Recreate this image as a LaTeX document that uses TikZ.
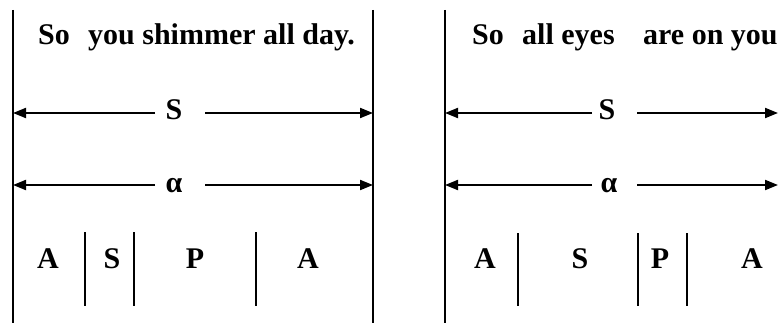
\documentclass[tikz,border=0pt]{standalone}
\usepackage{fontspec}
\setmainfont{Liberation Serif}
\newfontfamily\tnr{Liberation Serif}
\usetikzlibrary{arrows.meta}
\begin{document}
\begin{tikzpicture}[x=1pt,y=-1pt,
  vline/.style={line width=2.6pt},
  divline/.style={line width=2.4pt},
  arr/.style={line width=2pt,-{Triangle[length=13pt,width=10pt]}},
  txt/.style={inner sep=0pt,anchor=base west,font=\tnr\bfseries\fontsize{30}{35}\selectfont},
  lbl/.style={inner sep=0pt,anchor=base,font=\tnr\bfseries\fontsize{30}{35}\selectfont}]
\useasboundingbox (0,0) rectangle (778,323);
% vertical frame lines
\coordinate (L1t) at (13,10);   \coordinate (L1b) at (13,323);
\coordinate (R1t) at (373,10);  \coordinate (R1b) at (373,323);
\coordinate (L2t) at (445,10);  \coordinate (L2b) at (445,323);
\draw[vline] (L1t) -- (L1b);
\draw[vline] (R1t) -- (R1b);
\draw[vline] (L2t) -- (L2b);
% titles
\node[txt] (t1a) at (38,45) {So};
\node[txt] (t1b) at (88,45) {you shimmer all day.};
\node[txt] (t2a) at (472,45) {So};
\node[txt] (t2b) at (522,45) {all eyes};
\node[txt] (t2c) at (643,45) {are on you};
% arrow end points
\coordinate (aS1l) at (13,113);  \coordinate (aS1r) at (373,113);
\coordinate (aA1l) at (13,185);  \coordinate (aA1r) at (373,185);
\coordinate (aS2l) at (445,113); \coordinate (aS2r) at (778,113);
\coordinate (aA2l) at (445,185); \coordinate (aA2r) at (778,185);
% segment starts beside the labels
\coordinate (pS1l) at (155,113); \coordinate (pS1r) at (205,113);
\coordinate (pA1l) at (155,185); \coordinate (pA1r) at (205,185);
\coordinate (pS2l) at (592,113); \coordinate (pS2r) at (637,113);
\coordinate (pA2l) at (592,185); \coordinate (pA2r) at (637,185);
% labels
\node[lbl] (S1) at (174,120) {S};
\node[lbl] (A1) at (174,192) {α};
\node[lbl] (S2) at (607,120) {S};
\node[lbl] (A2) at (609,192) {α};
% arrows
\draw[arr] (pS1l) -- (aS1l);
\draw[arr] (pS1r) -- (aS1r);
\draw[arr] (pA1l) -- (aA1l);
\draw[arr] (pA1r) -- (aA1r);
\draw[arr] (pS2l) -- (aS2l);
\draw[arr] (pS2r) -- (aS2r);
\draw[arr] (pA2l) -- (aA2l);
\draw[arr] (pA2r) -- (aA2r);
% bottom row
\node[lbl] (b1) at (48,268) {A};
\node[lbl] (b2) at (112,268) {S};
\node[lbl] (b3) at (195,268) {P};
\node[lbl] (b4) at (308,268) {A};
\node[lbl] (c1) at (485,268) {A};
\node[lbl] (c2) at (580,268) {S};
\node[lbl] (c3) at (660,268) {P};
\node[lbl] (c4) at (752,268) {A};
\coordinate (d1t) at (85,232);  \coordinate (d1b) at (85,306);
\coordinate (d2t) at (134,232); \coordinate (d2b) at (134,306);
\coordinate (d3t) at (256,232); \coordinate (d3b) at (256,306);
\coordinate (e1t) at (518,233); \coordinate (e1b) at (518,306);
\coordinate (e2t) at (638,233); \coordinate (e2b) at (638,306);
\coordinate (e3t) at (687,233); \coordinate (e3b) at (687,306);
\foreach \d in {d1,d2,d3,e1,e2,e3} \draw[divline] (\d t) -- (\d b);
\end{tikzpicture}
\end{document}
